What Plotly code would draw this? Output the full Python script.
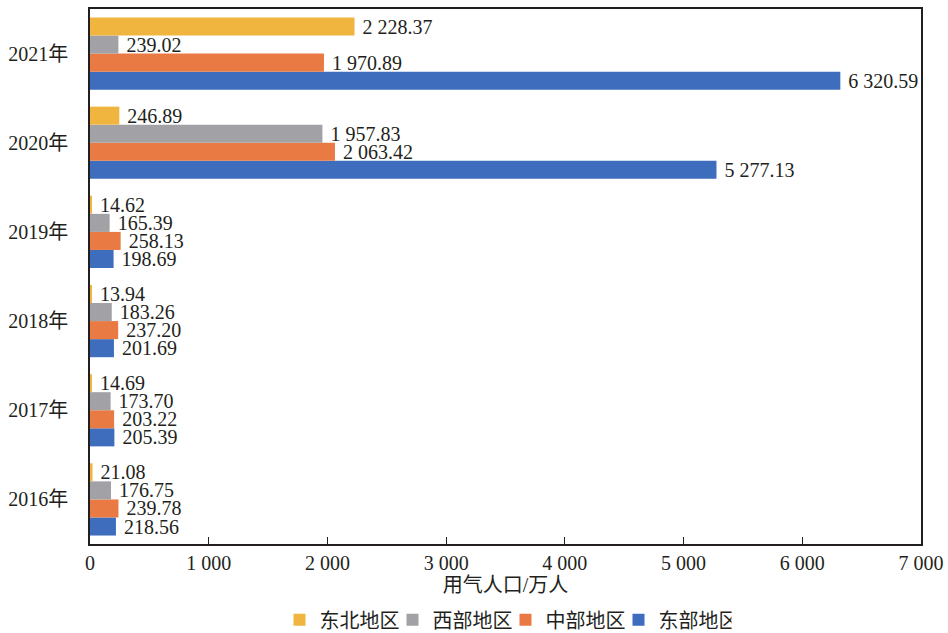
import plotly.graph_objects as go

years = ["2016年", "2017年", "2018年", "2019年", "2020年", "2021年"]
east = [218.56, 205.39, 201.69, 198.69, 5277.13, 6320.59]
central = [239.78, 203.22, 237.20, 258.13, 2063.42, 1970.89]
west = [176.75, 173.70, 183.26, 165.39, 1957.83, 239.02]
northeast = [21.08, 14.69, 13.94, 14.62, 246.89, 2228.37]

series = [
    ("东部地区", east, "#3D6DBC"),
    ("中部地区", central, "#EA7A44"),
    ("西部地区", west, "#A2A2A6"),
    ("东北地区", northeast, "#EFB53F"),
]

FONT = "Liberation Serif, Times New Roman, Noto Sans CJK SC, serif"

fig = go.Figure()
for name, vals, color in series:
    fig.add_trace(go.Bar(
        y=years, x=vals, name=name, orientation="h",
        marker=dict(color=color, line=dict(width=0)),
        texttemplate=" %{x:,.2f}", textposition="outside",
        constraintext="none", cliponaxis=False,
        textfont=dict(family=FONT, size=20, color="#231F20"),
    ))

fig.update_layout(
    width=948, height=633,
    margin=dict(l=90, r=27, t=9, b=89, autoexpand=False),
    paper_bgcolor="white", plot_bgcolor="white",
    barmode="group", bargap=0.19, bargroupgap=0,
    separators=". ",
    font=dict(family=FONT, size=20, color="#231F20"),
    showlegend=True,
    legend=dict(orientation="h", traceorder="reversed",
                x=0.5, xanchor="center",
                yref="container", y=0.021, yanchor="middle",
                font=dict(family=FONT, size=20, color="#231F20"),
                itemwidth=30, entrywidth=68),
    xaxis=dict(range=[0, 7000], dtick=1000, tickformat=",",
               automargin=False,
               showgrid=False, zeroline=False,
               showline=True, linecolor="#231F20", linewidth=1.5, mirror=True,
               ticks="inside", ticklen=7, tickcolor="#231F20",
               tickfont=dict(family=FONT, size=20, color="#231F20"),
               title=dict(text="用气人口/万人", standoff=4,
                          font=dict(family=FONT, size=20, color="#231F20"))),
    yaxis=dict(showgrid=False, zeroline=False, automargin=False,
               showline=True, linecolor="#231F20", linewidth=1.5, mirror=True,
               ticks="", ticklabelstandoff=16,
               tickfont=dict(family=FONT, size=20, color="#231F20")),
)

fig.write_html("out.html")
